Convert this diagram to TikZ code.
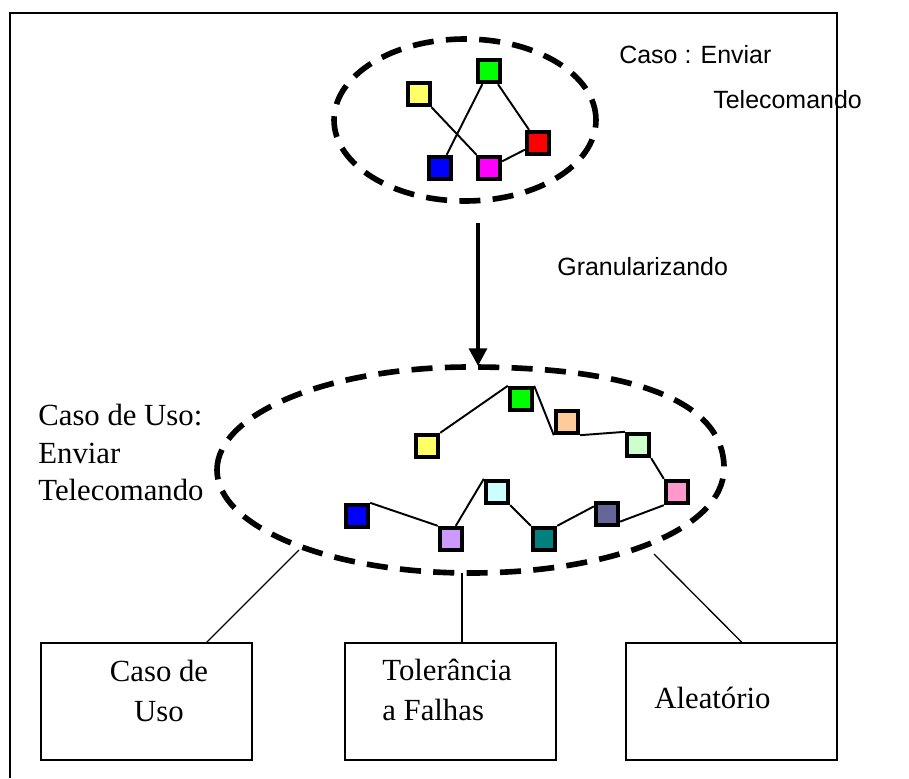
\documentclass[tikz,border=0pt]{standalone}
\usepackage{fontspec}
\setmainfont{Liberation Serif}
\newfontfamily\arialfont{Liberation Sans}
\usepackage{tikz}
\usetikzlibrary{arrows.meta,positioning,backgrounds,shapes.geometric}
\definecolor{sqyellow}{HTML}{FFFF66}
\definecolor{sqgreen}{HTML}{00FF00}
\definecolor{sqblue}{HTML}{0000FF}
\definecolor{sqmagenta}{HTML}{FF00FF}
\definecolor{sqred}{HTML}{FF0000}
\definecolor{sqorange}{HTML}{FFCC99}
\definecolor{sqmint}{HTML}{CCFFCC}
\definecolor{sqpink}{HTML}{FF99CC}
\definecolor{sqslate}{HTML}{666699}
\definecolor{sqteal}{HTML}{008080}
\definecolor{sqcyan}{HTML}{CCFFFF}
\definecolor{sqlilac}{HTML}{CC99FF}
\tikzset{
  sq/.style    ={draw=black,line width=2.2pt,minimum size=0.45cm,inner sep=0pt},
  zone/.style  ={draw=black,line width=3.2pt,dash pattern=on 12pt off 7pt},
  link/.style  ={draw=black,line width=1.1pt},
  branch/.style={draw=black,line width=0.75pt},
  frame/.style ={draw=black,line width=1pt},
  box/.style   ={draw=black,line width=1pt,minimum width=4.22cm,minimum height=2.34cm,
                 inner sep=0pt,outer sep=0pt},
  serif/.style ={font=\fontsize{17.5}{22.8}\selectfont,inner sep=0pt},
  sans/.style  ={font=\arialfont\fontsize{14.2}{17}\selectfont,inner sep=0pt},
  flow/.style  ={-{Triangle[length=10pt,width=10pt]},line width=2.3pt,draw=black}
}

\begin{document}
\begin{tikzpicture}[x=0.02cm,y=-0.02cm]
  \useasboundingbox (0,0) rectangle (909,778);
  % coarse use case
  \node[zone,ellipse,minimum width=5.24cm,minimum height=3.24cm,inner sep=0pt] (coarse) at (465,120) {};
  \node[sq,fill=sqyellow]  (a1) at (419,94) {};
  \node[sq,fill=sqgreen]   (a2) at (489,71) {};
  \node[sq,fill=sqblue]    (a3) at (440,168) {};
  \node[sq,fill=sqmagenta] (a4) at (489,168) {};
  \node[sq,fill=sqred]     (a5) at (538,143) {};
  \begin{scope}[on background layer]
    \draw[link] (a1) -- (a4);
    \draw[link] (a2) -- (a3);
    \draw[link] (a2) -- (a5);
    \draw[link] (a4) -- (a5);
  \end{scope}
  \node[sans,anchor=base west] (ctitle) at (619,63) {Caso : Enviar};
  \node[sans,anchor=base west] (ctitle2) at (713,108) {Telecomando};

  % granularizing step
  \coordinate (gtop) at (478,223);
  \coordinate (gtip) at (478,366);
  \draw[flow] (gtop) -- (gtip);
  \node[sans,anchor=base west] (gran) at (557,275) {Granularizando};

  % fine use case
  \draw[zone] (217,470) .. controls (217,413) and (330,367) .. (470,367)
              .. controls (630,367) and (724,400) .. (724,468)
              .. controls (724,530) and (610,573) .. (470,573)
              .. controls (330,573) and (217,527) .. (217,470);
  \node[sq,fill=sqyellow] (b1)  at (427,446) {};
  \node[sq,fill=sqgreen]  (b2)  at (521,399) {};
  \node[sq,fill=sqorange] (b3)  at (567,422) {};
  \node[sq,fill=sqmint]   (b4)  at (638,445) {};
  \node[sq,fill=sqpink]   (b5)  at (677,492) {};
  \node[sq,fill=sqslate]  (b6)  at (607,514) {};
  \node[sq,fill=sqteal]   (b7)  at (544,539) {};
  \node[sq,fill=sqcyan]   (b8)  at (497,492) {};
  \node[sq,fill=sqlilac]  (b9)  at (451,539) {};
  \node[sq,fill=sqblue]   (b10) at (357,516) {};
  \begin{scope}[on background layer]
    \draw[link] (b1.north east) -- (b2.north west);
    \draw[link] (b2.north east) -- (b3.south west);
    \draw[link] (b3.south east) -- (b4.north west);
    \draw[link] (b4.south east) -- (b5.north west);
    \draw[link] (b5.south west) -- (b6.-30);
    \draw[link] (b6.150) -- (b7.north east);
    \draw[link] (b7.north west) -- (b8.south east);
    \draw[link] (b8.north west) -- (b9.70);
    \draw[link] (b9.north west) -- (b10.north east);
  \end{scope}
  \node[serif,anchor=north west,align=left,font=\fontsize{17.5}{21.4}\selectfont]
    (fine) at (38,404) {Caso de Uso:\\Enviar\\Telecomando};

  % breakdown boxes
  \node[box] (uso) at (146.5,701.5) {};
  \node[box] (tol) at (450.5,701.5) {};
  \node[box] (alea) at (731.5,701.5) {};
  \node[serif,anchor=north,align=center] (usotxt) at (159,660) {Caso de\\Uso};
  \node[serif,anchor=north west,align=left] (toltxt) at (382,659) {Tolerância\\a Falhas};
  \node[serif,anchor=base west] (aleatxt) at (654,708) {Aleatório};
  \coordinate (fineL) at (299,550);
  \coordinate (fineM) at (462,573);
  \coordinate (fineR) at (654,554);
  \draw[branch] (fineL) -- ([xshift=1.19cm]uso.north);
  \draw[branch] (fineM) -- (fineM |- tol.north);
  \draw[branch] (fineR) -- ([xshift=0.22cm]alea.north);

  % outer frame
  \draw[frame] (10,778) -- (10,13) -- (alea.north east |- 0,13) -- (alea.north east);
\end{tikzpicture}
\end{document}
